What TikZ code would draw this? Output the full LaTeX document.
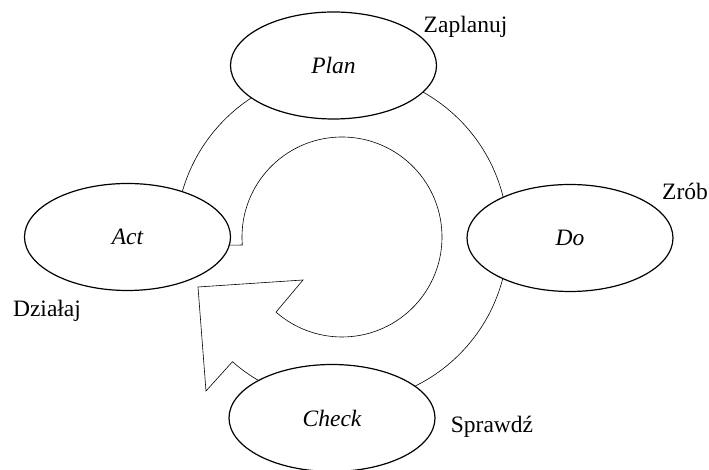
\documentclass[tikz,border=0pt]{standalone}
\usepackage{fontspec}
\setmainfont{Liberation Serif}
\usetikzlibrary{shapes.geometric}
\begin{document}
\begin{tikzpicture}[x=1pt,y=1pt,font=\fontsize{23.5}{28}\selectfont,
  phase/.style={draw,ellipse,fill=white,line width=1.2pt,minimum width=206pt,minimum height=107pt,inner sep=0pt,font=\fontsize{23.5}{28}\selectfont\itshape},
  note/.style={anchor=base,inner sep=0pt}]
\useasboundingbox (0,0) rectangle (709,470);

% circular arrow
\coordinate (o) at (342,233);
\draw [line width=0.6pt] ([shift={(184.6:100)}]o) arc (184.6:-131.3:100) -- (303,190) -- (198,183) -- (206,79) -- ([shift={(-131.3:166)}]o) arc (-131.3:183.1:166) -- cycle;

% phases
\node [phase] (plan) at (333.5,404.5) {Plan};
\node [phase] (act) at (127.5,233) {Act};
\node [phase] (do) at (570,232) {Do};
\node [phase] (check) at (332,52) {Check};

% polish names
\node [note] (zaplanuj) at (465.5,437) {Zaplanuj};
\node [note] (zrob) at (685,270) {Zrób};
\node [note] (dzialaj) at (47,153) {Działaj};
\node [note] (sprawdz) at (492,37) {Sprawdź};

\end{tikzpicture}
\end{document}
